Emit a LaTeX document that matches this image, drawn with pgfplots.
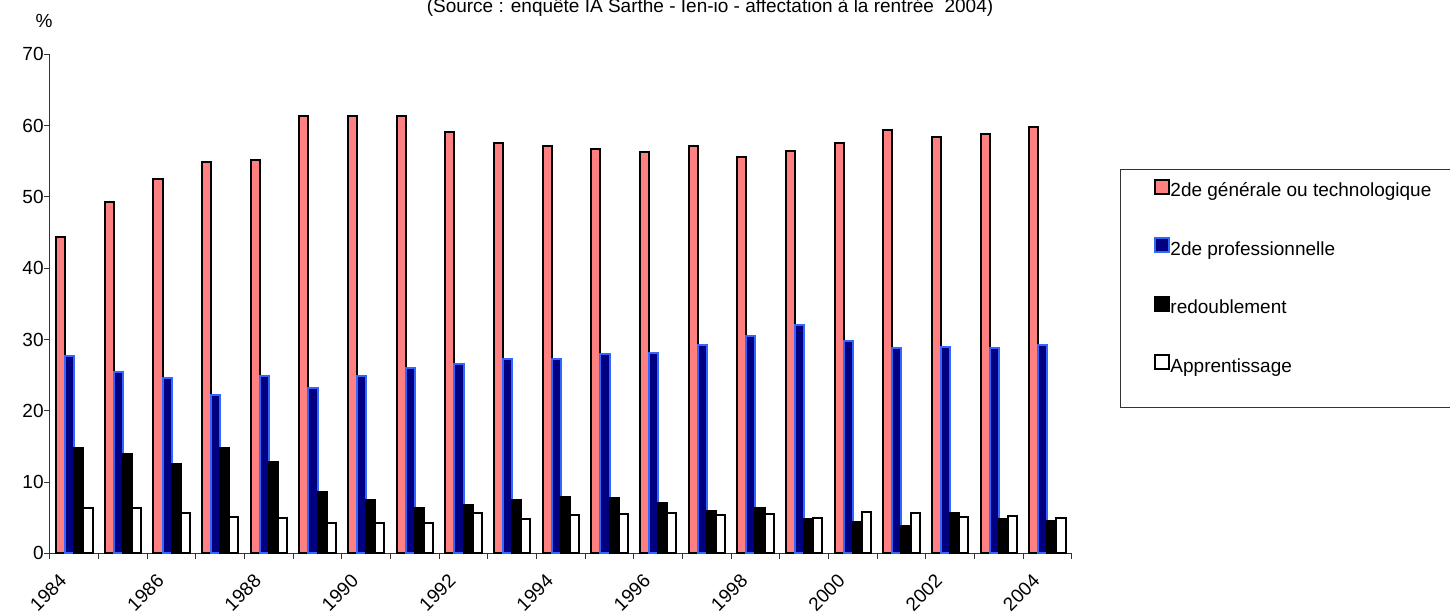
\documentclass[border=0pt]{standalone}
\usepackage{fontspec}
\setmainfont{Liberation Sans}
\usepackage{pgfplots}
\pgfplotsset{compat=1.18}
\definecolor{salmon}{HTML}{FF8080}
\definecolor{navyfill}{HTML}{000080}
\definecolor{edgeblue}{HTML}{3366FF}
\newcommand\f{\fontsize{9.5bp}{11.4bp}\selectfont}
\begin{document}
\begin{tikzpicture}
\useasboundingbox (-25bp,-30.35bp) rectangle (700bp,276.65bp);
\begin{axis}[
  at={(0,0)}, anchor=south west,
  scale only axis, width=510.85bp, height=249.45bp,
  xmin=-0.5, xmax=20.5, ymin=0, ymax=70,
  axis x line*=bottom, axis y line*=left,
  axis line style={black!80, line width=0.5bp},
  ytick={0,10,...,70},
  xtick={0,2,...,20},
  xticklabels={1984,1986,1988,1990,1992,1994,1996,1998,2000,2002,2004},
  minor xtick={-0.5,0.5,...,20.5},
  tick align=outside, major tick length=3bp, minor tick length=3bp,
  tick style={black!80, line width=0.5bp},
  major x tick style={draw=none},
  /pgf/number format/assume math mode=true,
  tick label style={font=\f},
  xticklabel style={xshift=-8bp, yshift=-6.5bp, rotate=45, anchor=north east, inner sep=0pt},
  yticklabel style={anchor=east, inner sep=0pt},
  clip=false,
  legend cell align=left,
  legend style={at={(1.0806,0.7518)}, anchor=north west, draw=none, fill=none,
    inner sep=0pt, row sep=18.3bp, font=\f,
    /tikz/every even column/.style={column sep=3bp},
    nodes={inner sep=0pt, text height=7bp, text depth=2bp}},
]
\addplot[ybar, bar width=0.187, bar shift=-0.2805, fill=salmon, draw=black, line width=1bp,
  legend image code/.code={\draw[fill=salmon, draw=black, line width=1bp] (0bp,-1bp) rectangle (7bp,6bp);}]
coordinates {(0,44.4) (1,49.3) (2,52.5) (3,54.9) (4,55.2) (5,61.3) (6,61.3) (7,61.4) (8,59.1) (9,57.6) (10,57.2) (11,56.7) (12,56.3) (13,57.2) (14,55.6) (15,56.4) (16,57.5) (17,59.4) (18,58.4) (19,58.8) (20,59.8)};
\addlegendentry{2de générale ou technologique}
\addplot[ybar, bar width=0.187, bar shift=-0.0935, fill=navyfill, draw=edgeblue, line width=1bp,
  legend image code/.code={\draw[fill=navyfill, draw=edgeblue, line width=1bp] (0bp,-1bp) rectangle (7bp,6bp);}]
coordinates {(0,27.7) (1,25.5) (2,24.6) (3,22.2) (4,24.9) (5,23.2) (6,24.9) (7,26.0) (8,26.6) (9,27.2) (10,27.3) (11,27.9) (12,28.1) (13,29.2) (14,30.5) (15,32.1) (16,29.8) (17,28.8) (18,28.9) (19,28.8) (20,29.2)};
\addlegendentry{2de professionnelle}
\addplot[ybar, bar width=0.187, bar shift=0.0935, fill=black, draw=black, line width=1bp,
  legend image code/.code={\draw[fill=black, draw=black, line width=1bp] (0bp,-1bp) rectangle (7bp,6bp);}]
coordinates {(0,14.8) (1,14.0) (2,12.5) (3,14.8) (4,12.8) (5,8.6) (6,7.5) (7,6.3) (8,6.8) (9,7.5) (10,7.9) (11,7.8) (12,7.1) (13,5.9) (14,6.3) (15,4.8) (16,4.4) (17,3.8) (18,5.7) (19,4.8) (20,4.6)};
\addlegendentry{redoublement}
\addplot[ybar, bar width=0.187, bar shift=0.2805, fill=white, draw=black, line width=1bp,
  legend image code/.code={\draw[fill=white, draw=black, line width=1bp] (0bp,-1bp) rectangle (7bp,6bp);}]
coordinates {(0,6.3) (1,6.3) (2,5.7) (3,5.1) (4,4.9) (5,4.3) (6,4.3) (7,4.3) (8,5.6) (9,4.8) (10,5.4) (11,5.5) (12,5.6) (13,5.4) (14,5.5) (15,5.0) (16,5.8) (17,5.6) (18,5.1) (19,5.2) (20,4.9)};
\addlegendentry{Apprentissage}
\end{axis}
\draw[black!80, line width=0.5bp] (535bp,72.65bp) rectangle (710bp,191.65bp);
\node[font=\f, anchor=base, inner sep=0pt] at (330bp,270.4bp) {(Source : enquête IA Sarthe - Ien-io - affectation à la rentrée~~2004)};
\node[font=\f, anchor=base, inner sep=0pt] at (-3bp,262.65bp) {\%};
\end{tikzpicture}
\end{document}
